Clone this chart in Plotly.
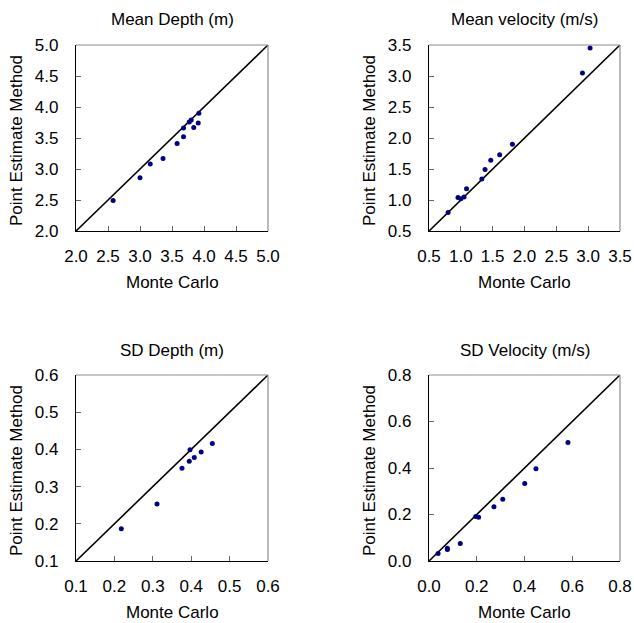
import plotly.graph_objects as go

# ---- data: Monte Carlo vs Point Estimate Method ----
mean_depth_mc = [2.58, 3.00, 3.16, 3.36, 3.58, 3.68, 3.68, 3.77, 3.80, 3.84, 3.91, 3.92]
mean_depth_pe = [2.49, 2.86, 3.08, 3.17, 3.41, 3.52, 3.66, 3.76, 3.79, 3.67, 3.74, 3.90]

mean_vel_mc = [0.80, 0.955, 1.00, 1.05, 1.09, 1.33, 1.38, 1.47, 1.61, 1.81, 2.91, 3.03]
mean_vel_pe = [0.80, 1.04, 1.02, 1.05, 1.18, 1.34, 1.49, 1.64, 1.73, 1.90, 3.05, 3.45]

sd_depth_mc = [0.218, 0.311, 0.376, 0.395, 0.397, 0.408, 0.426, 0.455]
sd_depth_pe = [0.187, 0.253, 0.349, 0.368, 0.399, 0.378, 0.393, 0.416]

sd_vel_mc = [0.038, 0.077, 0.077, 0.131, 0.196, 0.208, 0.272, 0.309, 0.401, 0.448, 0.582]
sd_vel_pe = [0.032, 0.050, 0.055, 0.075, 0.191, 0.188, 0.233, 0.266, 0.333, 0.397, 0.510]

titles = ["Mean Depth (m)", "Mean velocity (m/s)", "SD Depth (m)", "SD Velocity (m/s)"]
ranges = [[2.0, 5.0], [0.5, 3.5], [0.1, 0.6], [0.0, 0.8]]
dticks = [0.5, 0.5, 0.1, 0.2]
tickfmt = [".1f", ".1f", ".1f", ".1f"]
xlabel = "Monte Carlo"
ylabel = "Point Estimate Method"

series = [(mean_depth_mc, mean_depth_pe), (mean_vel_mc, mean_vel_pe),
          (sd_depth_mc, sd_depth_pe), (sd_vel_mc, sd_vel_pe)]

W, H = 634, 623
FONT = dict(family="Arial, Liberation Sans, sans-serif", size=17, color="black")

# plot-area boxes in pixels: (left, right, top, bottom)
boxes = [(76, 268, 45, 231), (429, 620, 45, 231),
         (76, 268, 375, 561), (429, 620, 375, 561)]


def px(x):
    return x / W


def py(y):
    return 1 - y / H


fig = go.Figure()
layout = dict(width=W, height=H, margin=dict(l=0, r=0, t=0, b=0, pad=0),
              paper_bgcolor="white", plot_bgcolor="white",
              showlegend=False, font=FONT)
annotations = []
shapes = []

for i, ((mc, pe), rng, dt, box) in enumerate(zip(series, ranges, dticks, boxes)):
    n = "" if i == 0 else str(i + 1)
    xa, ya = "x" + n, "y" + n
    l, r, t, b = box
    axis_common = dict(range=rng, dtick=dt, tick0=rng[0], tickformat=tickfmt[i],
                       showgrid=False, zeroline=False, showline=True,
                       linecolor="black", linewidth=1.2, automargin=False,
                       ticks="inside", ticklen=5, tickcolor="#666666", tickwidth=1,
                       tickfont=FONT, ticklabelstandoff=9, fixedrange=True)
    layout["xaxis" + n] = dict(axis_common, domain=[px(l), px(r)], anchor=ya)
    layout["yaxis" + n] = dict(axis_common, domain=[py(b), py(t)], anchor=xa,
                               ticklabelstandoff=13)

    # 1:1 reference line across the axis range
    fig.add_trace(go.Scatter(x=rng, y=rng, mode="lines", xaxis=xa, yaxis=ya,
                             line=dict(color="black", width=1.6),
                             hoverinfo="skip"))
    fig.add_trace(go.Scatter(x=mc, y=pe, mode="markers", xaxis=xa, yaxis=ya,
                             marker=dict(color="#000080", size=5)))

    # grey top / right frame
    shapes.append(dict(type="line", xref=xa + " domain", yref=ya + " domain",
                       x0=0, x1=1, y0=1, y1=1, line=dict(color="#8c8c8c", width=1.2)))
    shapes.append(dict(type="line", xref=xa + " domain", yref=ya + " domain",
                       x0=1, x1=1, y0=0, y1=1, line=dict(color="#8c8c8c", width=1.2)))

    cx, cy = (l + r) / 2, (t + b) / 2
    annotations.append(dict(text=titles[i], x=px(cx), y=py(t - 25), xref="paper",
                            yref="paper", showarrow=False, font=FONT,
                            xanchor="center", yanchor="middle"))
    annotations.append(dict(text=xlabel, x=px(cx), y=py(b + 51), xref="paper",
                            yref="paper", showarrow=False, font=FONT,
                            xanchor="center", yanchor="middle"))
    annotations.append(dict(text=ylabel, x=px(l - 60), y=py(cy + 3), xref="paper",
                            yref="paper", showarrow=False, font=FONT, textangle=-90,
                            xanchor="center", yanchor="middle"))

layout["annotations"] = annotations
layout["shapes"] = shapes
fig.update_layout(**layout)
fig.write_html("out.html")
